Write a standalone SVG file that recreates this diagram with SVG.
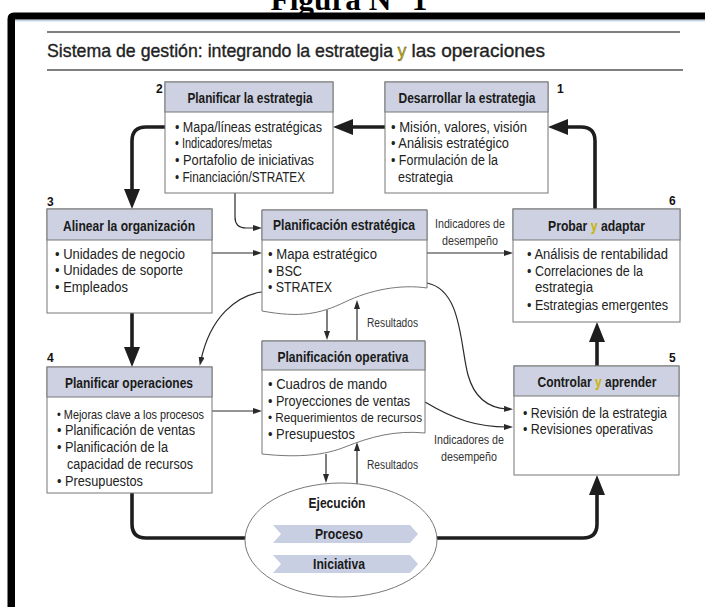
<svg xmlns="http://www.w3.org/2000/svg" width="705" height="607" viewBox="0 0 705 607">
<defs>
<style>
.hdr{fill:#cdd1e1;stroke:#777;stroke-width:1}
.body{fill:#fff;stroke:#777;stroke-width:1}
.ht{font-family:"Liberation Sans",Arial,sans-serif;font-weight:bold;font-size:14px;fill:#1a1a1a}
.c{text-anchor:middle}
.bt{font-family:"Liberation Sans",Arial,sans-serif;font-size:14px;fill:#222}
.sm{font-size:13.5px}
.lb{font-family:"Liberation Sans",Arial,sans-serif;font-size:12.5px;fill:#333}
.num{font-family:"Liberation Sans",Arial,sans-serif;font-weight:bold;font-size:12px;fill:#111}
.tt{font-family:"Liberation Sans",Arial,sans-serif;font-size:19px;fill:#222;stroke:#222;stroke-width:0.35}
.yl{fill:#c8b400}
.thick{fill:none;stroke:#1e1e1e;stroke-width:3.6}
.thin{fill:none;stroke:#2a2a2a;stroke-width:1.2}
</style>
<marker id="ab" viewBox="0 0 20 16" markerWidth="20" markerHeight="16" refX="8" refY="8" orient="auto" markerUnits="userSpaceOnUse"><path d="M0,0 L20,8 L0,16 Z" fill="#1e1e1e"/></marker>
<marker id="as" viewBox="0 0 9 6" markerWidth="9" markerHeight="6" refX="3" refY="3" orient="auto" markerUnits="userSpaceOnUse"><path d="M0,0 L9,3 L0,6 Z" fill="#2a2a2a"/></marker>
</defs>
<rect width="705" height="607" fill="#fff"/>
<text x="349" y="10" text-anchor="middle" font-family="Liberation Serif,Times New Roman,serif" font-weight="bold" font-size="31" textLength="157" lengthAdjust="spacingAndGlyphs" fill="#000">Figura N° 1</text>
<path d="M7.5,607 V19 Q7.5,12.5 14,12.5 H705 V19.5 H15 V607 Z" fill="#000"/>
<line x1="15" y1="20.8" x2="705" y2="20.8" stroke="#a9bfdc" stroke-width="1"/>
<line x1="47" y1="32" x2="680" y2="32" stroke="#555" stroke-width="1.6"/>
<line x1="47" y1="70" x2="683" y2="70" stroke="#555" stroke-width="1.6"/>
<text class="tt" x="47" y="57" textLength="346" lengthAdjust="spacingAndGlyphs">Sistema de gestión: integrando la estrategia</text>
<text class="tt yl" x="397.5" y="57" stroke="#c8b400" textLength="8.9" lengthAdjust="spacingAndGlyphs">y</text>
<text class="tt" x="411.5" y="57" textLength="133.5" lengthAdjust="spacingAndGlyphs">las operaciones</text>

<g id="connectors">
<path class="thick" d="M385,127 H345" marker-end="url(#ab)"/>
<path class="thick" d="M595,209 V141 Q595,127 581,127 H560" marker-end="url(#ab)"/>
<path class="thick" d="M165,127 H146 Q132,127 132,141 V197" marker-end="url(#ab)"/>
<path class="thick" d="M132,313 V355" marker-end="url(#ab)"/>
<path class="thick" d="M132,493 V524 Q132,538 146,538 H246"/>
<path class="thick" d="M437,538 H583 Q597,538 597,524 V487" marker-end="url(#ab)"/>
<path class="thick" d="M597,366 V334" marker-end="url(#ab)"/>
<path class="thin" d="M235,193 V217 Q235,228 246,228 H256" marker-end="url(#as)"/>
<path class="thin" d="M212,253 H256" marker-end="url(#as)"/>
<path class="thin" d="M427,253 H507" marker-end="url(#as)"/>
<path class="thin" d="M262,292 C236,295 210,318 201,360" marker-end="url(#as)"/>
<path class="thin" d="M327,310 V334" marker-end="url(#as)"/>
<path class="thin" d="M357,340 V306" marker-end="url(#as)"/>
<path class="thin" d="M427,283 C462,290 460,345 468,375 C475,400 490,408 507,409" marker-end="url(#as)"/>
<path class="thin" d="M425,402 C455,420 478,427 507,427" marker-end="url(#as)"/>
<path class="thin" d="M212,411 H256" marker-end="url(#as)"/>
<path class="thin" d="M326,454 V477" marker-end="url(#as)"/>
<path class="thin" d="M357,484 V448" marker-end="url(#as)"/>
<text class="lb c" x="470" y="228" textLength="70" lengthAdjust="spacingAndGlyphs">Indicadores de</text>
<text class="lb c" x="470" y="245" textLength="56" lengthAdjust="spacingAndGlyphs">desempeño</text>
<text class="lb c" x="469" y="444" textLength="70" lengthAdjust="spacingAndGlyphs">Indicadores de</text>
<text class="lb c" x="469" y="461" textLength="56" lengthAdjust="spacingAndGlyphs">desempeño</text>
<text class="lb" x="367" y="327" textLength="51" lengthAdjust="spacingAndGlyphs">Resultados</text>
<text class="lb" x="367" y="469" textLength="51" lengthAdjust="spacingAndGlyphs">Resultados</text>
</g>

<g id="n2">
<rect class="body" x="165" y="82" width="168" height="111"/>
<rect class="hdr" x="165" y="82" width="168" height="30"/>
<text class="num" x="156" y="93">2</text>
<text class="ht c" x="250" y="103" textLength="125" lengthAdjust="spacingAndGlyphs">Planificar la estrategia</text>
<text class="bt" x="175" y="132" textLength="147" lengthAdjust="spacingAndGlyphs">• Mapa/líneas estratégicas</text>
<text class="bt" x="175" y="148" textLength="97" lengthAdjust="spacingAndGlyphs">• Indicadores/metas</text>
<text class="bt" x="175" y="165" textLength="139" lengthAdjust="spacingAndGlyphs">• Portafolio de iniciativas</text>
<text class="bt" x="175" y="182" textLength="130" lengthAdjust="spacingAndGlyphs">• Financiación/STRATEX</text>
</g>

<g id="n1">
<rect class="body" x="385" y="82" width="163" height="111"/>
<rect class="hdr" x="385" y="82" width="163" height="30"/>
<text class="num" x="557" y="93">1</text>
<text class="ht c" x="467" y="103" textLength="137" lengthAdjust="spacingAndGlyphs">Desarrollar la estrategia</text>
<text class="bt" x="391" y="132" textLength="136" lengthAdjust="spacingAndGlyphs">• Misión, valores, visión</text>
<text class="bt" x="391" y="148" textLength="118" lengthAdjust="spacingAndGlyphs">• Análisis estratégico</text>
<text class="bt" x="391" y="165" textLength="107" lengthAdjust="spacingAndGlyphs">• Formulación de la</text>
<text class="bt" x="398" y="182" textLength="55" lengthAdjust="spacingAndGlyphs">estrategia</text>
</g>

<g id="n3">
<rect class="body" x="47" y="209" width="165" height="104"/>
<rect class="hdr" x="47" y="209" width="165" height="31"/>
<text class="num" x="47" y="206">3</text>
<text class="ht c" x="129" y="231" textLength="132" lengthAdjust="spacingAndGlyphs">Alinear la organización</text>
<text class="bt" x="55" y="259" textLength="130" lengthAdjust="spacingAndGlyphs">• Unidades de negocio</text>
<text class="bt" x="55" y="275" textLength="128" lengthAdjust="spacingAndGlyphs">• Unidades de soporte</text>
<text class="bt" x="55" y="292" textLength="73" lengthAdjust="spacingAndGlyphs">• Empleados</text>
</g>

<g id="pe">
<path class="body" d="M262,210 H427 V288 C400,284 370,290 345,302 C320,314 300,318 262,311 Z"/>
<rect class="hdr" x="262" y="210" width="165" height="30"/>
<text class="ht c" x="344" y="230" textLength="142" lengthAdjust="spacingAndGlyphs">Planificación estratégica</text>
<text class="bt" x="268" y="259" textLength="109" lengthAdjust="spacingAndGlyphs">• Mapa estratégico</text>
<text class="bt" x="268" y="276" textLength="34" lengthAdjust="spacingAndGlyphs">• BSC</text>
<text class="bt" x="268" y="292" textLength="64" lengthAdjust="spacingAndGlyphs">• STRATEX</text>
</g>

<g id="n6">
<rect class="body" x="513" y="209" width="167" height="113"/>
<rect class="hdr" x="513" y="209" width="167" height="31"/>
<text class="num" x="669" y="205">6</text>
<text class="ht" x="548" y="231" textLength="39.3" lengthAdjust="spacingAndGlyphs">Probar</text>
<text class="ht yl" x="590.7" y="231" textLength="6.8" lengthAdjust="spacingAndGlyphs">y</text>
<text class="ht" x="600.9" y="231" textLength="44.1" lengthAdjust="spacingAndGlyphs">adaptar</text>
<text class="bt" x="527" y="259" textLength="141" lengthAdjust="spacingAndGlyphs">• Análisis de rentabilidad</text>
<text class="bt" x="527" y="276" textLength="116" lengthAdjust="spacingAndGlyphs">• Correlaciones de la</text>
<text class="bt" x="535" y="292" textLength="58" lengthAdjust="spacingAndGlyphs">estrategia</text>
<text class="bt" x="527" y="310" textLength="141" lengthAdjust="spacingAndGlyphs">• Estrategias emergentes</text>
</g>

<g id="n4">
<rect class="body" x="47" y="367" width="165" height="126"/>
<rect class="hdr" x="47" y="367" width="165" height="30"/>
<text class="num" x="47" y="362">4</text>
<text class="ht c" x="129" y="388" textLength="128" lengthAdjust="spacingAndGlyphs">Planificar operaciones</text>
<text class="bt sm" x="57" y="419" textLength="147" lengthAdjust="spacingAndGlyphs">• Mejoras clave a los procesos</text>
<text class="bt" x="57" y="435" textLength="138" lengthAdjust="spacingAndGlyphs">• Planificación de ventas</text>
<text class="bt" x="57" y="452" textLength="111" lengthAdjust="spacingAndGlyphs">• Planificación de la</text>
<text class="bt" x="67" y="469" textLength="126" lengthAdjust="spacingAndGlyphs">capacidad de recursos</text>
<text class="bt" x="57" y="486" textLength="86" lengthAdjust="spacingAndGlyphs">• Presupuestos</text>
</g>

<g id="po">
<path class="body" d="M262,341 H425 V433 C395,430 370,437 345,447 C325,455 300,458 262,454 Z"/>
<rect class="hdr" x="262" y="341" width="163" height="29"/>
<text class="ht c" x="343" y="362" textLength="131" lengthAdjust="spacingAndGlyphs">Planificación operativa</text>
<text class="bt" x="268" y="389" textLength="119" lengthAdjust="spacingAndGlyphs">• Cuadros de mando</text>
<text class="bt" x="268" y="406" textLength="142" lengthAdjust="spacingAndGlyphs">• Proyecciones de ventas</text>
<text class="bt sm" x="268" y="422" textLength="154" lengthAdjust="spacingAndGlyphs">• Requerimientos de recursos</text>
<text class="bt" x="268" y="439" textLength="87" lengthAdjust="spacingAndGlyphs">• Presupuestos</text>
</g>

<g id="n5">
<rect class="body" x="514" y="366" width="165" height="109"/>
<rect class="hdr" x="514" y="366" width="165" height="30"/>
<text class="num" x="669" y="362">5</text>
<text class="ht" x="537.5" y="387" textLength="54.1" lengthAdjust="spacingAndGlyphs">Controlar</text>
<text class="ht yl" x="594.9" y="387" textLength="6.7" lengthAdjust="spacingAndGlyphs">y</text>
<text class="ht" x="605" y="387" textLength="51.5" lengthAdjust="spacingAndGlyphs">aprender</text>
<text class="bt" x="523" y="418" textLength="144" lengthAdjust="spacingAndGlyphs">• Revisión de la estrategia</text>
<text class="bt" x="523" y="434" textLength="130" lengthAdjust="spacingAndGlyphs">• Revisiones operativas</text>
</g>

<g id="ejecucion">
<ellipse cx="341" cy="540" rx="96" ry="57" fill="#fff" stroke="#777" stroke-width="1"/>
<text class="ht c" x="337" y="508" textLength="57" lengthAdjust="spacingAndGlyphs">Ejecución</text>
<path d="M273,525 H410 L418,534 L410,543 H273 L281,534 Z" fill="#c9cfe3"/>
<path d="M273,555 H410 L418,564 L410,573 H273 L281,564 Z" fill="#c9cfe3"/>
<text class="ht c" x="339" y="539" font-size="13.5" textLength="48" lengthAdjust="spacingAndGlyphs" fill="#333">Proceso</text>
<text class="ht c" x="339" y="569" font-size="13.5" textLength="52" lengthAdjust="spacingAndGlyphs" fill="#333">Iniciativa</text>
</g>
</svg>
